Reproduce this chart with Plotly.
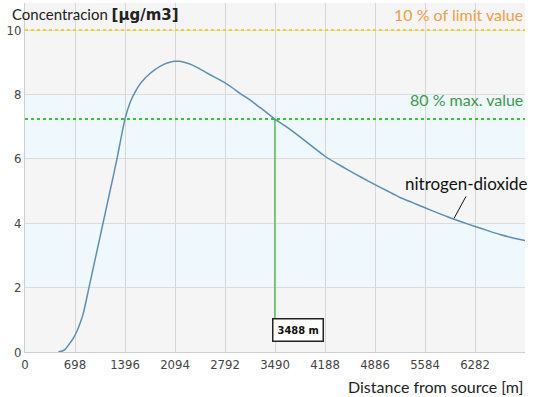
import plotly.graph_objects as go

# Distance from source [m] and concentration [µg/m3]
distance = [465, 520, 560, 628, 680, 722, 770, 814, 893, 991, 1089, 1187, 1284, 1396,
            1466, 1536, 1605, 1675, 1745, 1815, 1885, 1954, 2024, 2094,
            2164, 2234, 2330, 2420, 2530, 2652, 2792, 2900, 3002, 3120, 3234, 3360, 3490,
            3672, 3839, 4072, 4188, 4350, 4514, 4700, 4886, 5060, 5235, 5410, 5584, 5760,
            5933, 6110, 6282, 6460, 6631, 6800, 6980]
concentration = [0, 0.03, 0.08, 0.28, 0.45, 0.63, 0.9, 1.2, 2.0, 3.0, 4.0, 5.0, 6.0, 7.24,
                 7.74, 8.07, 8.32, 8.5, 8.65, 8.77, 8.87, 8.95, 9.0,
                 9.03, 9.03, 8.99, 8.92, 8.82, 8.68, 8.53, 8.36, 8.2, 8.03, 7.86, 7.67, 7.46,
                 7.23, 6.96, 6.68, 6.28, 6.08, 5.86, 5.65, 5.42, 5.2, 5.0, 4.8, 4.64, 4.48,
                 4.32, 4.17, 4.03, 3.9, 3.77, 3.65, 3.55, 3.46]

x_ticks = [0, 698, 1396, 2094, 2792, 3490, 4188, 4886, 5584, 6282]
y_ticks = [0, 2, 4, 6, 8, 10]
limit_value = 10          # 10 % of limit value
max_value = 9.05
eighty_pct = 0.8 * max_value
crossing_distance = 3488

x_max = 6980
y_max = 10.84

fig = go.Figure()

# alternating background bands
band_edges = [0, 2, 4, 6, 8, y_max]
for i in range(len(band_edges) - 1):
    fig.add_shape(type="rect", xref="x", yref="y", x0=0, x1=x_max,
                  y0=band_edges[i], y1=band_edges[i + 1],
                  fillcolor="#f5f5f5" if i % 2 == 0 else "#eff8fd",
                  line_width=0, layer="below")

fig.add_trace(go.Scatter(x=distance, y=concentration, mode="lines",
                         line=dict(color="#5b8fb3", width=1.5, shape="spline", smoothing=0.6),
                         hoverinfo="skip", showlegend=False))

# reference lines
fig.add_shape(type="line", xref="x", yref="y", x0=0, x1=x_max, y0=limit_value, y1=limit_value,
              line=dict(color="#f2d21a", width=2, dash="dot"))
fig.add_shape(type="line", xref="x", yref="y", x0=0, x1=x_max, y0=eighty_pct, y1=eighty_pct,
              line=dict(color="#33c433", width=2, dash="dot"))
fig.add_shape(type="line", xref="x", yref="y", x0=crossing_distance, x1=crossing_distance,
              y0=eighty_pct, y1=1.02, line=dict(color="#33b833", width=1.2))

label_font = "Lato, Open Sans, sans-serif"
fig.add_annotation(x=crossing_distance, y=0.68, xref="x", yref="y",
                   text="<b>3488 m</b>", showarrow=False, xanchor="left", yanchor="middle",
                   xshift=-3, font=dict(family="Liberation Sans Narrow, DejaVu Sans Condensed",
                                          size=11, color="#111"),
                   bgcolor="white", bordercolor="#222", borderwidth=1.5, borderpad=4)

fig.add_annotation(x=1, y=1.0, xref="paper", yref="paper", text="10 % of limit value",
                   showarrow=False, xanchor="right", yanchor="top",
                   font=dict(family=label_font, size=16, color="#f0a040"))
fig.add_annotation(x=1, y=7.5, xref="paper", yref="y", text="80 % max. value",
                   showarrow=False, xanchor="right", yanchor="bottom",
                   font=dict(family=label_font, size=16, color="#3c9a4c"))
fig.add_annotation(x=5989, y=4.15, xref="x", yref="y", text="nitrogen-dioxide",
                   showarrow=True, arrowhead=0, arrowwidth=1, arrowcolor="#111",
                   ax=12, ay=-22, xanchor="center", yanchor="bottom",
                   font=dict(family=label_font, size=17, color="#111"))

fig.add_annotation(x=-0.03, y=1.0, xref="paper", yref="paper",
                   text="Concentracion <b><span style='font-family:DejaVu Sans'>[µg/m3]</span></b>",
                   showarrow=False, xanchor="left", yanchor="top",
                   font=dict(family=label_font, size=15, color="#222"))
fig.add_annotation(x=1.0, y=-0.065, xref="paper", yref="paper",
                   text="Distance from source [m]", showarrow=False,
                   xanchor="right", yanchor="top",
                   font=dict(family=label_font, size=16, color="#222"))

tick_font = dict(family="Liberation Sans Narrow, DejaVu Sans Condensed", size=13, color="#444")
fig.update_layout(
    width=537, height=397,
    margin=dict(l=25, r=12, t=3, b=45),
    paper_bgcolor="white", plot_bgcolor="#f5f5f5",
    xaxis=dict(range=[0, x_max], tickvals=x_ticks, ticktext=[str(v) for v in x_ticks],
               showgrid=True, gridcolor="#d6d6d6", gridwidth=1, zeroline=False,
               showline=True, linecolor="#cfcfcf", ticks="", ticklen=0, automargin=False,
               tickfont=tick_font),
    yaxis=dict(range=[0, y_max], tickvals=y_ticks, showgrid=True, gridcolor="#dcdcdc",
               zeroline=False, showline=True, linecolor="#cfcfcf", ticks="", automargin=False,
               tickfont=tick_font),
)

fig.write_html("out.html", config={"displayModeBar": False})

# remove the browser's default page margin so the figure fills the window exactly
with open("out.html", "r", encoding="utf-8") as f:
    html = f.read()
html = html.replace("<body>", "<body style=\"margin:0;padding:0;overflow:hidden\">", 1)
with open("out.html", "w", encoding="utf-8") as f:
    f.write(html)
